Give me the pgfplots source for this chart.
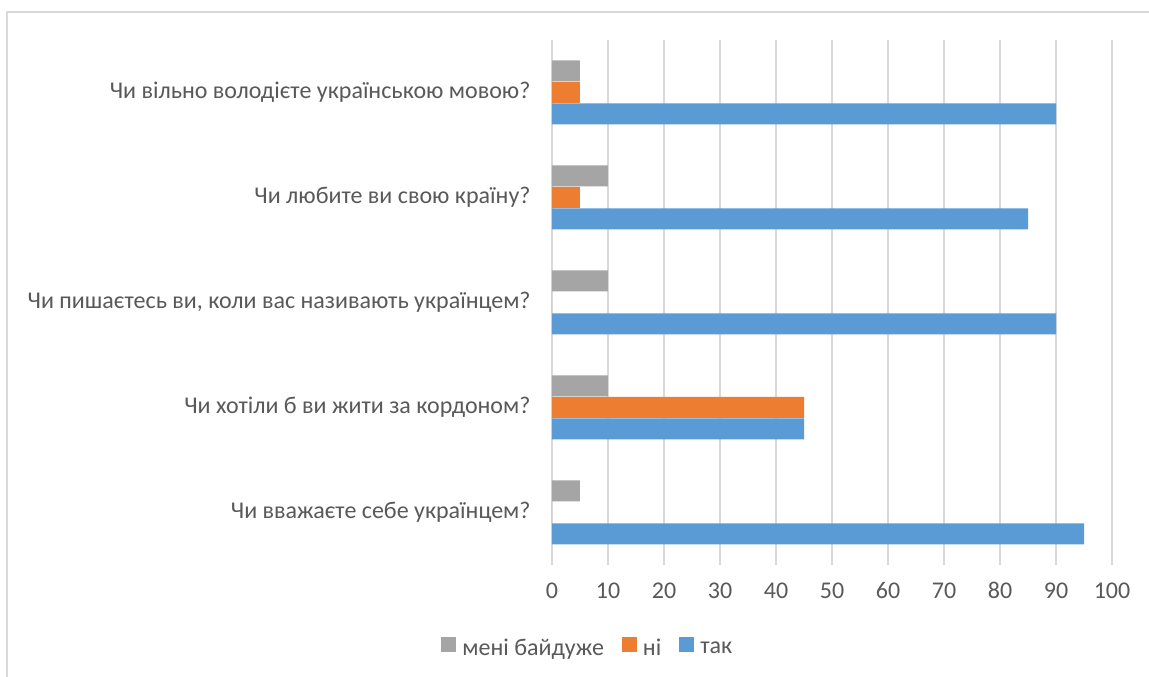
\documentclass[border=0pt]{standalone}
\usepackage{pgfplots}
\pgfplotsset{compat=1.18}
\usepackage{fontspec}
\setmainfont{Carlito}
\definecolor{cblue}{RGB}{91,155,213}
\definecolor{corange}{RGB}{237,125,49}
\definecolor{cgray}{RGB}{165,165,165}
\definecolor{gridc}{RGB}{217,217,217}
\definecolor{txt}{RGB}{89,89,89}
\begin{document}
\begin{tikzpicture}[x=1pt,y=1pt]
\useasboundingbox (0,0) rectangle (1149,677);
\fill[white] (0,0) rectangle (1149,677);
\draw[gridc, line width=1.2pt] (7,0) -- (7,665) -- (1149,665);
\begin{axis}[
  at={(552pt,112pt)}, anchor=south west,
  scale only axis, width=560pt, height=525pt,
  xbar, bar width=21pt,
  xmin=0, xmax=100, ymin=-0.5, ymax=4.5,
  xtick={0,10,...,100},
  ytick={0,1,2,3,4},
  yticklabels={Чи вважаєте себе українцем?, Чи хотіли б ви жити за кордоном?, {Чи пишаєтесь ви, коли вас називають українцем?}, {Чи любите ви свою країну?\ }, Чи вільно володієте українською мовою?},
  axis line style={draw=none},
  major tick length=0pt,
  xmajorgrids, grid style={gridc, line width=1.5pt},
  /pgf/number format/assume math mode=true,
  tick label style={font=\fontsize{24}{28}\selectfont, text=txt},
  xticklabel style={yshift=-14pt},
  yticklabel style={xshift=-18pt},
  legend columns=3,
  legend style={at={(axis description cs:0.064,-0.158)}, anchor=center, draw=none, font=\fontsize{24}{28}\selectfont, text=txt, nodes={inner sep=2pt}, /tikz/every even column/.append style={column sep=16pt}},
  legend image code/.code={\fill[#1] (0pt,-4pt) rectangle (15pt,11pt); \path (19pt,0pt);},
]
\addplot[fill=cgray, draw=none, bar shift=21.5pt] coordinates {(5,0) (10,1) (10,2) (10,3) (5,4)};
\addplot[fill=corange, draw=none, bar shift=0pt] coordinates {(0,0) (45,1) (0,2) (5,3) (5,4)};
\addplot[fill=cblue, draw=none, bar shift=-21.5pt] coordinates {(95,0) (45,1) (90,2) (85,3) (90,4)};
\legend{мені байдуже, ні, так}
\end{axis}
\end{tikzpicture}
\end{document}
